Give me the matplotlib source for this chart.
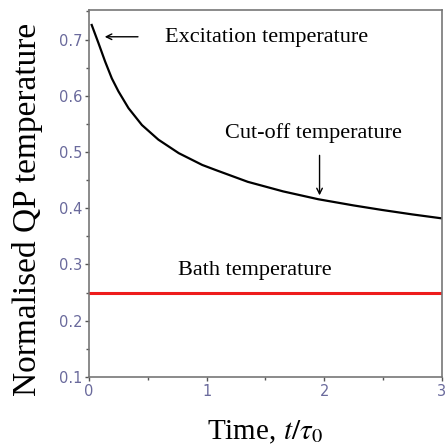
import numpy as np
import matplotlib
matplotlib.use('Agg')
from matplotlib import pyplot as plt
from matplotlib.ticker import MultipleLocator

plt.rcParams['mathtext.fontset'] = 'stix'

# values
t = [0.023, 0.08, 0.137, 0.194, 0.25, 0.336, 0.45, 0.59, 0.763, 0.963, 1.077,
     1.35, 1.65, 1.95, 2.25, 2.49, 2.75, 3.0]
T_qp = [0.726, 0.694, 0.661, 0.631, 0.608, 0.578, 0.548, 0.522, 0.498, 0.477, 0.468,
        0.447, 0.430, 0.416, 0.405, 0.397, 0.389, 0.382]
t_bath = [0, 3]
T_bath = [0.25, 0.25]

tick_col = '#6a6a9c'
serif = 'Liberation Serif'

fig = plt.figure(figsize=(4.45, 4.45), dpi=100)
ax = fig.add_axes([0.2, 0.153, 0.793, 0.825])

ax.plot(t, T_qp, color='black', lw=1.6)
ax.plot(t_bath, T_bath, color='#ee1c1c', lw=2.2)

ax.set_xlim(0, 3)
ax.set_ylim(0.1, 0.753)
ax.xaxis.set_major_locator(MultipleLocator(1))
ax.xaxis.set_minor_locator(MultipleLocator(0.5))
ax.yaxis.set_major_locator(MultipleLocator(0.1))
ax.yaxis.set_minor_locator(MultipleLocator(0.05))
ax.tick_params(which='both', direction='out', colors='#555555', labelcolor=tick_col,
               labelsize=10.5, length=3, width=1, pad=2)
ax.tick_params(which='minor', length=2)
for s in ax.spines.values():
    s.set_color('#777777')
    s.set_linewidth(1.2)

ax.set_ylabel('Normalised QP temperature', family=serif, fontsize=24)
ax.yaxis.set_label_coords(-0.13, 0.455)
ax.set_xlabel(r'Time, $t/\tau_0$', family=serif, fontsize=21, labelpad=14)

ax.annotate('', xy=(0.11, 0.705), xytext=(0.44, 0.705),
            arrowprops=dict(arrowstyle='->', color='black', lw=1))
ax.text(0.65, 0.703, 'Excitation temperature', family=serif, fontsize=16, va='center')
ax.text(1.16, 0.534, 'Cut-off temperature', family=serif, fontsize=16, va='center')
ax.annotate('', xy=(1.96, 0.418), xytext=(1.96, 0.499),
            arrowprops=dict(arrowstyle='->', color='black', lw=1))
ax.text(0.76, 0.29, 'Bath temperature', family=serif, fontsize=16, va='center')

fig.savefig('out.png', dpi=100)
